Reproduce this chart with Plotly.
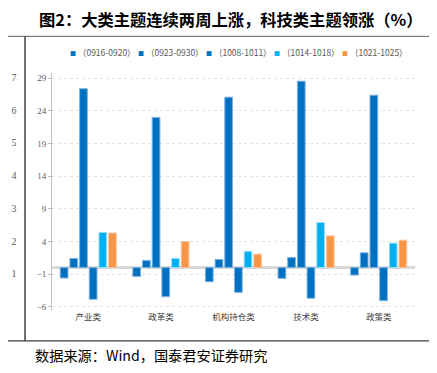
import plotly.graph_objects as go

categories = ["产业类", "政革类", "机构持仓类", "技术类", "政策类"]
series_names = ["（0909-0913）", "（0916-0920）", "（0923-0930）", "（1008-1011）", "（1014-1018）", "（1021-1025）"]
s0909 = [-1.6, -1.35, -2.17, -1.65, -1.15]
s0916 = [1.4, 1.1, 1.25, 1.56, 2.26]
s0923 = [27.4, 23.0, 26.1, 28.55, 26.4]
s1008 = [-4.86, -4.46, -3.8, -4.7, -5.07]
s1014 = [5.4, 1.4, 2.5, 6.9, 3.74]
s1021 = [5.3, 4.0, 2.06, 4.86, 4.2]
series_values = [s0909, s0916, s0923, s1008, s1014, s1021]
colors = ["#0070C0", "#0070C0", "#0070C0", "#0070C0", "#00B0F0", "#F79646"]
edge_colors = ["#7FB2E0", "#7FB2E0", "#7FB2E0", "#7FB2E0", "#9FE0F8", "#FBC7A0"]
legend_idx = [1, 2, 3, 4, 5]  # series shown in the legend row
y_ticks = [-6, -1, 4, 9, 14, 19, 24, 29]

# tick labels of the neighbouring chart cut off at the left edge
left_ticks = [1, 2, 3, 4, 5, 6, 7]

# page body has an 8px margin: figure is sized to fill the rest of the window
OFF = 8
W, H = 437 - OFF, 373 - OFF
T = 72.7 - OFF
B = H - (310 - OFF)
plot_h = H - T - B
X0, X1 = 52 - OFF, 415 - OFF


def px_x(px):
    return (px - OFF) / W


def px_y(px):
    return (H - B - (px - OFF)) / plot_h


fig = go.Figure()
for i, (name, vals) in enumerate(zip(series_names, series_values)):
    fig.add_trace(go.Bar(
        x=categories, y=vals, name=name,
        marker=dict(color=colors[i], line=dict(color=edge_colors[i], width=1)),
        showlegend=False, xaxis="x", yaxis="y",
    ))

# empty trace so that the neighbour chart's axis is drawn
fig.add_trace(go.Scatter(x=[], y=[], xaxis="x2", yaxis="y2", showlegend=False, hoverinfo="skip"))

annotations = []
step = 68
for k, idx in enumerate(legend_idx):
    annotations.append(dict(
        x=px_x(68 + k * step), y=px_y(52), xref="paper", yref="paper",
        xanchor="left", yanchor="middle",
        text=f"<span style='color:{colors[idx]};font-size:6px'>■</span> {series_names[idx]}",
        showarrow=False, font=dict(family="Noto Sans CJK SC", size=8.5, color="#595959"),
    ))
annotations.append(dict(
    x=px_x(33), y=px_y(355), xref="paper", yref="paper", xanchor="left", yanchor="middle",
    text="数据来源：Wind，国泰君安证券研究", showarrow=False,
    font=dict(family="Noto Sans CJK SC", size=14.2, color="#000000"),
))
annotations.append(dict(
    x=px_x(230), y=px_y(19), xref="paper", yref="paper", xanchor="center", yanchor="middle",
    text="<b>图2：大类主题连续两周上涨，科技类主题领涨（%）</b>", showarrow=False,
    font=dict(family="Noto Sans CJK SC", size=16.3, color="#000000"),
))

shapes = [
    dict(type="line", xref="paper", yref="paper", x0=0, x1=1, y0=px_y(36), y1=px_y(36),
         line=dict(color="#606060", width=1)),
    dict(type="line", xref="paper", yref="paper", x0=px_x(25), x1=px_x(25), y0=px_y(36), y1=px_y(341),
         line=dict(color="#404040", width=1.5)),
    dict(type="line", xref="paper", yref="paper", x0=0, x1=1, y0=px_y(341), y1=px_y(341),
         line=dict(color="#404040", width=1.2)),
]

fig.update_layout(
    width=W, height=H,
    margin=dict(l=0, r=0, t=T, b=B),
    paper_bgcolor="white", plot_bgcolor="white",
    barmode="group", bargap=0.2, bargroupgap=0.2,
    xaxis=dict(domain=[X0 / W, X1 / W], showline=False, showgrid=False, ticks="",
               tickfont=dict(family="Noto Sans CJK SC", size=8.5, color="#404040"),
               anchor="y"),
    yaxis=dict(range=[-6.5, 29.8], tickvals=y_ticks, showline=True, linecolor="#BFBFBF",
               linewidth=1, ticks="outside", ticklen=3, tickcolor="#BFBFBF",
               showgrid=True, gridcolor="#E3E3E3", griddash="dot", gridwidth=1,
               zeroline=True, zerolinecolor="#D9D9D9", zerolinewidth=3,
               tickfont=dict(family="Liberation Serif", size=9, color="#595959"),
               anchor="x"),
    xaxis2=dict(domain=[0, 0.5 / W], range=[0, 1], visible=False, anchor="y2"),
    yaxis2=dict(range=[-0.1, 7.13], tickvals=left_ticks, side="right", anchor="x2",
                showline=False, showgrid=False, zeroline=False, ticks="",
                ticklabelstandoff=2,
                tickfont=dict(family="Liberation Serif", size=10, color="#595959")),
    annotations=annotations,
    shapes=shapes,
)

fig.write_html("out.html")
